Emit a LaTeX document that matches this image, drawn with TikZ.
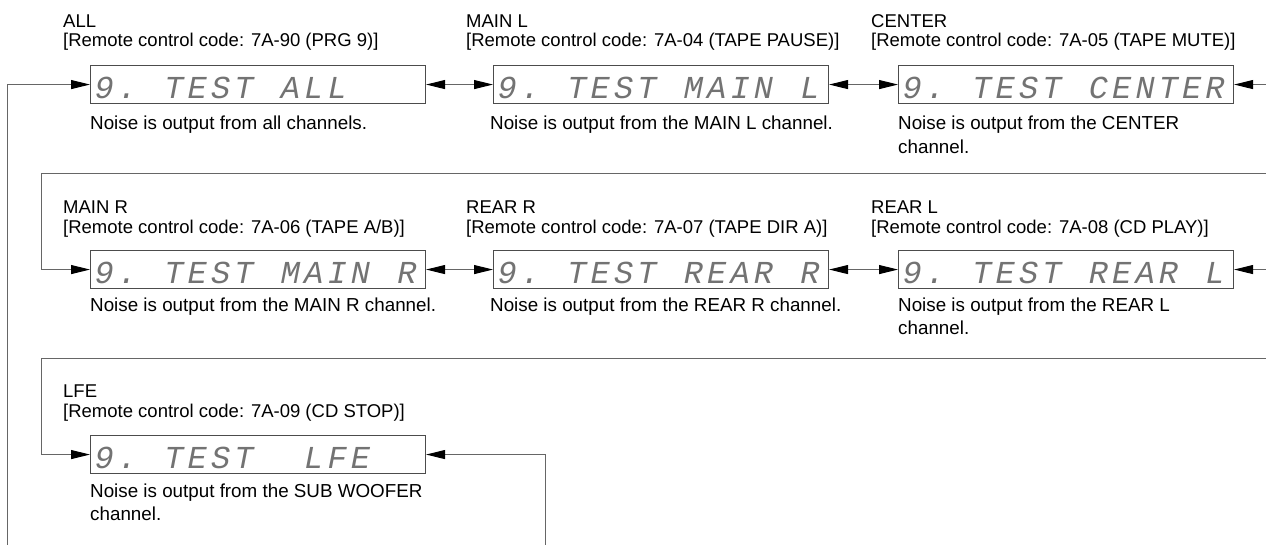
\documentclass[tikz,border=0pt]{standalone}
\usepackage{fontspec}
\setmainfont{Liberation Sans}
\newfontfamily\segfont{Liberation Mono}
\usetikzlibrary{arrows.meta}
\makeatletter
\newcommand\segcells[1]{\seg@loop#1\relax}
\def\seg@loop#1{\ifx#1\relax\else\makebox[23.3pt][l]{#1}\expandafter\seg@loop\fi}
\makeatother
\tikzset{
  lbl/.style={anchor=base west, inner sep=0pt, font=\fontsize{18.5}{19}\selectfont},
  captxt/.style={anchor=base west, inner sep=0pt, font=\fontsize{18.8}{21}\selectfont},
  disp/.style={draw=black!70, line width=1.1pt, anchor=north west, inner xsep=4pt, inner ysep=0pt,
    text width=327pt, align=left, text height=33pt, text depth=5pt,
    font=\segfont\itshape\fontsize{32}{34}\selectfont, text=black!55},
  conn/.style={draw=black!60, line width=1pt, {Triangle[length=19pt,width=9pt,color=black]}-{Triangle[length=19pt,width=9pt,color=black]}},
}
\begin{document}
\begin{tikzpicture}[x=1pt,y=-1pt]
\useasboundingbox (0,0) rectangle (1266,544);
\fill[white] (0,0) rectangle (1266,544);
\clip (0,0) rectangle (1266,544);
% Row 1
\node[lbl] (allN) at (63,27) {ALL};
\node[lbl] (allC) at (63,46) {[Remote control code: 7A-90 (PRG 9)]};
\node[disp] (all) at (90,65) {\segcells{9.~TEST~ALL}};
\node[captxt] (allT) at (90,129) {Noise is output from all channels.};

\node[lbl] (mlN) at (466,27) {MAIN L};
\node[lbl] (mlC) at (466,46) {[Remote control code: 7A-04 (TAPE PAUSE)]};
\node[disp] (ml) at (493,65) {\segcells{9.~TEST~MAIN~L}};
\node[captxt] (mlT) at (490,129) {Noise is output from the MAIN L channel.};

\node[lbl] (ceN) at (871,27) {CENTER};
\node[lbl] (ceC) at (871,46) {[Remote control code: 7A-05 (TAPE MUTE)]};
\node[disp] (ce) at (898,65) {\segcells{9.~TEST~CENTER}};
\node[captxt] (ceT) at (898,129) {Noise is output from the CENTER};
\node[captxt] (ceT2) at (898,153) {channel.};

% Row 2
\node[lbl] (mrN) at (63,213) {MAIN R};
\node[lbl] (mrC) at (63,233) {[Remote control code: 7A-06 (TAPE A/B)]};
\node[disp] (mr) at (90,250) {\segcells{9.~TEST~MAIN~R}};
\node[captxt] (mrT) at (90,311) {Noise is output from the MAIN R channel.};

\node[lbl] (rrN) at (466,213) {REAR R};
\node[lbl] (rrC) at (466,233) {[Remote control code: 7A-07 (TAPE DIR A)]};
\node[disp] (rr) at (493,250) {\segcells{9.~TEST~REAR~R}};
\node[captxt] (rrT) at (490,311) {Noise is output from the REAR R channel.};

\node[lbl] (rlN) at (871,213) {REAR L};
\node[lbl] (rlC) at (871,233) {[Remote control code: 7A-08 (CD PLAY)]};
\node[disp] (rl) at (898,250) {\segcells{9.~TEST~REAR~L}};
\node[captxt] (rlT) at (898,311) {Noise is output from the REAR L};
\node[captxt] (rlT2) at (898,334) {channel.};

% Row 3
\node[lbl] (lfN) at (63,397) {LFE};
\node[lbl] (lfC) at (63,417) {[Remote control code: 7A-09 (CD STOP)]};
\node[disp] (lf) at (90,435) {\segcells{9.~TEST~~LFE}};
\node[captxt] (lfT) at (90,497) {Noise is output from the SUB WOOFER};
\node[captxt] (lfT2) at (90,520) {channel.};

% wrap coordinates
\coordinate (w1R) at (1300,173);
\coordinate (w1L) at (41,173);
\coordinate (w2R) at (1300,358);
\coordinate (w2L) at (41,358);
\coordinate (lpL) at (7,580);
\coordinate (lpR) at (545,580);

% connectors
\draw[conn] (all.east) -- (ml.west);
\draw[conn] (ml.east) -- (ce.west);
\draw[conn] (ce.east) -| (w1R) -- (w1L) |- (mr.west);
\draw[conn] (mr.east) -- (rr.west);
\draw[conn] (rr.east) -- (rl.west);
\draw[conn] (rl.east) -| (w2R) -- (w2L) |- (lf.west);
\draw[conn] (all.west) -| (lpL) -- (lpR) |- (lf.east);
\end{tikzpicture}
\end{document}
